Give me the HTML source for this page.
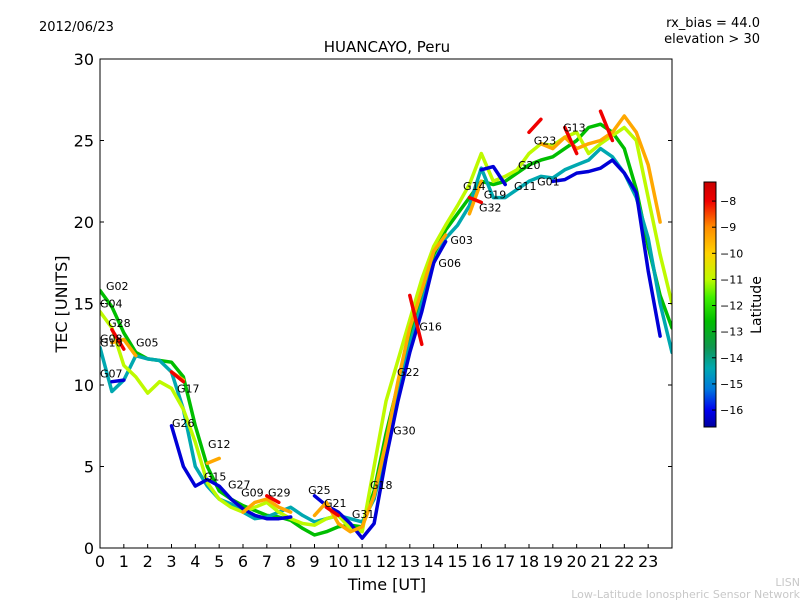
<!DOCTYPE html>
<html><head><meta charset="utf-8"><style>
body{margin:0;background:#fff;}
svg{display:block;font-family:"DejaVu Sans","Liberation Sans",sans-serif;}
</style></head><body>
<svg id="chart" width="800" height="600" viewBox="0 0 800 600">
<defs>
<linearGradient id="jet" x1="0" y1="1" x2="0" y2="0" id2="g"></linearGradient>
<clipPath id="clip"><rect x="100" y="59" width="572" height="489"/></clipPath>
</defs>
<text x="39" y="31" font-size="13">2012/06/23</text>
<text x="760" y="27" font-size="13" text-anchor="end">rx_bias = 44.0</text>
<text x="760" y="43" font-size="13" text-anchor="end">elevation &gt; 30</text>
<text x="387" y="52" font-size="15" text-anchor="middle">HUANCAYO, Peru</text>
<g id="marks" clip-path="url(#clip)"></g>
<g id="labels"></g>
<rect x="100" y="59" width="572" height="489" fill="none" stroke="#000" stroke-width="1"/>
<g id="axes"></g>
<text x="387" y="590" font-size="16" text-anchor="middle">Time [UT]</text>
<text x="67" y="304" font-size="16" text-anchor="middle" transform="rotate(-90 67 304)">TEC [UNITS]</text>
<rect x="704" y="182" width="12" height="245" fill="url(#jet)" stroke="#000" stroke-width="1"/>
<g id="cbticks"></g>
<text x="761" y="305" font-size="14" text-anchor="middle" transform="rotate(-90 761 305)">Latitude</text>
<text x="800" y="586" font-size="11" fill="#c8c8c8" text-anchor="end">LISN</text>
<text x="800" y="598" font-size="11" fill="#c8c8c8" text-anchor="end">Low-Latitude Ionospheric Sensor Network</text>
</svg>
<script>
const hours = [0,0.5,1,1.5,2,2.5,3,3.5,4,4.5,5,5.5,6,6.5,7,7.5,8,8.5,9,9.5,10,10.5,11,11.5,12,12.5,13,13.5,14,14.5,15,15.5,16,16.5,17,17.5,18,18.5,19,19.5,20,20.5,21,21.5,22,22.5,23,23.5,24];
const tecGreen = [15.8,14.8,13.2,12.0,11.6,11.5,11.4,10.5,7.5,5.0,3.5,3.0,2.6,2.3,2.0,1.9,1.7,1.2,0.8,1.0,1.3,1.4,1.3,3.5,7.0,10.0,13.0,15.5,18.0,19.5,20.5,21.5,22.5,22.3,22.5,23.0,23.5,23.8,24.0,24.5,25.0,25.8,26.0,25.5,24.5,22.0,18.5,15.5,13.5];
const tecTeal = [12.3,9.6,10.3,11.8,11.6,11.5,10.8,8.5,5.0,3.8,3.0,2.7,2.2,1.8,1.9,2.2,2.5,2.0,1.6,1.8,2.0,1.8,1.6,3.0,6.0,9.5,12.5,15.0,17.5,19.0,19.8,21.0,23.3,21.5,21.5,22.0,22.5,22.8,22.7,23.2,23.5,23.8,24.5,24.0,23.0,21.5,19.0,15.0,12.0];
const tecYellowGreen = [14.5,13.5,11.2,10.5,9.5,10.2,9.8,8.5,6.5,4.0,3.0,2.5,2.2,2.5,2.8,2.2,1.8,1.5,1.4,1.8,2.0,1.2,1.0,5.0,9.0,11.5,14.0,16.5,18.5,19.8,21.0,22.3,24.2,22.5,22.8,23.2,24.2,24.8,24.7,25.2,25.5,24.2,24.8,25.3,25.8,25.0,21.5,18.0,15.0];
const tecBlue = [null,10.2,10.3,null,null,null,7.5,5.0,3.8,4.2,3.8,3.0,2.4,2.0,1.8,1.8,1.9,null,3.2,2.6,2.2,1.5,0.6,1.5,5.5,9.0,12.0,14.5,17.5,18.8,null,null,23.2,23.4,22.3,null,null,null,22.5,22.6,23.0,23.1,23.3,23.8,23.0,21.8,17.0,13.0,null];
const tecOrange = [null,12.6,12.8,11.8,null,null,10.8,10.3,null,5.2,5.5,null,2.2,2.8,3.0,2.5,2.2,null,2.0,2.8,1.5,1.0,1.3,3.2,6.5,10.2,13.5,15.8,18.2,19.2,null,20.5,22.5,null,null,null,null,24.8,24.5,25.2,24.5,24.8,25.0,25.5,26.5,25.5,23.5,20.0,null];
const tecRed = [null,13.4,12.2,null,null,null,10.8,10.2,null,null,5.5,null,null,null,3.2,2.8,null,2.5,null,2.5,2.0,null,null,3.8,null,null,15.5,12.5,null,null,null,21.5,21.2,null,null,null,25.5,26.3,null,25.8,24.2,null,26.8,25.0,null,27.5,null,null,null];
const seriesNames = ["green","teal","yellow-green","blue","orange","red"];
const seriesTec = [tecGreen,tecTeal,tecYellowGreen,tecBlue,tecOrange,tecRed];
const seriesLat = [-12.6,-14.4,-11.0,-16.2,-9.4,-8.0];
const labelNames = ["G02","G04","G28","G08","G10","G05","G07","G17","G26","G12","G15","G27","G09","G29","G25","G21","G31","G18","G30","G22","G16","G06","G03","G14","G32","G19","G11","G20","G01","G23","G13"];
const labelHours = [0.25,0.0,0.34,0.0,0.0,1.51,0.0,3.23,3.02,4.53,4.36,5.37,5.92,7.05,8.73,9.4,10.57,11.33,12.3,12.46,13.4,14.2,14.7,15.23,15.9,16.1,17.37,17.54,18.34,18.2,19.43];
const labelTec = [16.07,15.0,13.8,12.85,12.6,12.6,10.7,9.8,7.67,6.38,4.4,3.9,3.4,3.4,3.56,2.76,2.09,3.87,7.2,10.8,13.6,17.5,18.9,22.2,20.9,21.7,22.2,23.5,22.5,25.0,25.8];
const xTicks = [0,1,2,3,4,5,6,7,8,9,10,11,12,13,14,15,16,17,18,19,20,21,22,23];
const yTicks = [0,5,10,15,20,25,30];
const latTicks = [-8,-9,-10,-11,-12,-13,-14,-15,-16];

const NS="http://www.w3.org/2000/svg";
const X = h => 100 + h*(572/24);
const Y = v => 548 - v*(489/30);
const LAT = l => 182 + (-7.27 - l)*(245/9.38);
// colormap stops (latitude -> color), matching the reference colorbar
const cmapLat = [-16.65,-16.0,-15.2,-14.4,-13.6,-12.6,-11.7,-11.0,-10.0,-9.0,-8.0,-7.27];
const cmapCol = [[0,0,160],[0,0,240],[0,120,220],[0,168,176],[16,150,80],[0,190,0],[64,240,0],[190,250,0],[255,210,0],[255,140,0],[240,0,0],[200,0,0]];
function latColor(l){
  if(l<=cmapLat[0]) return `rgb(${cmapCol[0]})`;
  for(let i=1;i<cmapLat.length;i++){
    if(l<=cmapLat[i]){
      const f=(l-cmapLat[i-1])/(cmapLat[i]-cmapLat[i-1]);
      const c=cmapCol[i-1].map((v,k)=>Math.round(v+(cmapCol[i][k]-v)*f));
      return `rgb(${c})`;
    }
  }
  return `rgb(${cmapCol[cmapCol.length-1]})`;
}
const grad=document.getElementById('jet');
cmapLat.forEach((l,i)=>{
  const s=document.createElementNS(NS,'stop');
  s.setAttribute('offset',((l+16.65)/9.38).toFixed(3));
  s.setAttribute('stop-color',`rgb(${cmapCol[i]})`);
  grad.appendChild(s);
});
const marks=document.getElementById('marks');
seriesTec.forEach((arr,si)=>{
  let d="",pen=false;
  arr.forEach((v,i)=>{
    if(v===null||v===undefined){pen=false;return;}
    d+=(pen?"L":"M")+X(hours[i]).toFixed(1)+","+Y(v).toFixed(1);
    pen=true;
  });
  const p=document.createElementNS(NS,'path');
  p.setAttribute('d',d);
  p.setAttribute('fill','none');
  p.setAttribute('stroke',latColor(seriesLat[si]));
  p.setAttribute('stroke-width','3.5');
  p.setAttribute('stroke-linejoin','round');
  p.setAttribute('stroke-linecap','round');
  
  
  marks.appendChild(p);
});
const lg=document.getElementById('labels');
labelNames.forEach((n,i)=>{
  const t=document.createElementNS(NS,'text');
  t.setAttribute('x',X(labelHours[i]));
  t.setAttribute('y',Y(labelTec[i])+4);
  t.setAttribute('font-size','11');
  t.textContent=n;
  
  
  lg.appendChild(t);
});
const ax=document.getElementById('axes');
xTicks.forEach(h=>{
  const l=document.createElementNS(NS,'line');
  l.setAttribute('x1',X(h));l.setAttribute('x2',X(h));
  l.setAttribute('y1',548);l.setAttribute('y2',544);
  l.setAttribute('stroke','#000');
  
  
  ax.appendChild(l);
  const t=document.createElementNS(NS,'text');
  t.setAttribute('x',X(h));t.setAttribute('y',567);
  t.setAttribute('font-size','16');t.setAttribute('text-anchor','middle');
  t.textContent=h;
  
  
  ax.appendChild(t);
});
yTicks.forEach(v=>{
  [[100,104],[672,668]].forEach(([a,b])=>{
    const l=document.createElementNS(NS,'line');
    l.setAttribute('x1',a);l.setAttribute('x2',b);
    l.setAttribute('y1',Y(v));l.setAttribute('y2',Y(v));
    l.setAttribute('stroke','#000');
    
    
    ax.appendChild(l);
  });
  const t=document.createElementNS(NS,'text');
  t.setAttribute('x',94);t.setAttribute('y',Y(v)+6);
  t.setAttribute('font-size','16');t.setAttribute('text-anchor','end');
  t.textContent=v;
  
  
  ax.appendChild(t);
});
const cb=document.getElementById('cbticks');
latTicks.forEach(l=>{
  const y=LAT(l);
  const ln=document.createElementNS(NS,'line');
  ln.setAttribute('x1',712);ln.setAttribute('x2',716);
  ln.setAttribute('y1',y);ln.setAttribute('y2',y);
  ln.setAttribute('stroke','#000');
  
  
  cb.appendChild(ln);
  const t=document.createElementNS(NS,'text');
  t.setAttribute('x',720);t.setAttribute('y',y+4);
  t.setAttribute('font-size','11');
  t.textContent='\u2212'+Math.abs(l);
  
  
  cb.appendChild(t);
});
</script>
</body></html>
